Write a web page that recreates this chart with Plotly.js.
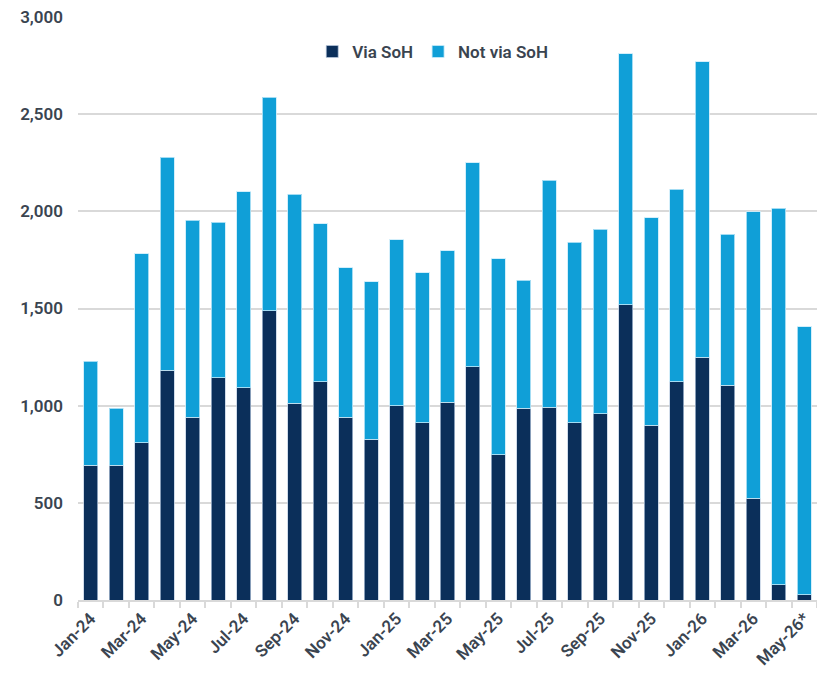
<!DOCTYPE html>
<html>
<head>
<meta charset="utf-8">
<script src="https://cdn.plot.ly/plotly-3.0.1.min.js"></script>
<style>html,body{margin:0;padding:0;background:#fff;}#chart{width:817px;height:680px;}</style>
</head>
<body>
<div id="chart"></div>
<script>
const categories = ["Jan-24","Feb-24","Mar-24","Apr-24","May-24","Jun-24","Jul-24","Aug-24","Sep-24","Oct-24","Nov-24","Dec-24",
  "Jan-25","Feb-25","Mar-25","Apr-25","May-25","Jun-25","Jul-25","Aug-25","Sep-25","Oct-25","Nov-25","Dec-25",
  "Jan-26","Feb-26","Mar-26","Apr-26","May-26*"];
const totals = [1228,986,1783,2279,1955,1943,2100,2587,2087,1936,1710,1638,
  1855,1684,1797,2251,1756,1645,2159,1842,1908,2812,1968,2113,
  2771,1881,1999,2015,1406];
const viaSoH = [694,694,808,1183,940,1144,1091,1488,1012,1123,940,827,
  1000,912,1017,1199,748,986,991,912,958,1519,898,1123,
  1250,1104,523,79,27];
const notViaSoH = totals.map((t,i)=>t-viaSoH[i]);
const tickLabels = categories.map((c,i)=> i%2===0 ? c : "");

const fontFam = "Roboto, 'Noto Sans', sans-serif";
const textColor = "#3a4450";

const traces = [
  {type:"bar", name:"Via SoH", x:categories, y:viaSoH,
   marker:{color:"#0b2f5a", line:{color:"rgba(190,205,225,0.7)", width:1}}},
  {type:"bar", name:"Not via SoH", x:categories, y:notViaSoH,
   marker:{color:"#109fd7", line:{color:"rgba(200,235,250,0.8)", width:1}}}
];

const layout = {
  barmode:"stack",
  bargap:0.45,
  width:817, height:680,
  margin:{l:78, r:0, t:17, b:80},
  paper_bgcolor:"#fff", plot_bgcolor:"#fff",
  font:{family:fontFam, color:textColor, size:16, weight:600},
  showlegend:true,
  legend:{orientation:"h", x:0.48, y:0.94, xanchor:"center", yanchor:"middle",
    font:{family:fontFam, size:17, color:textColor, weight:600}, traceorder:"normal",
    itemwidth:30, bgcolor:"rgba(0,0,0,0)"},
  xaxis:{type:"category", categoryorder:"array", categoryarray:categories,
    tickvals:categories, ticktext:tickLabels, tickangle:-45,
    tickson:"boundaries", ticks:"outside", ticklen:6, tickwidth:2, tickcolor:"#d9d9d9",
    showline:true, linecolor:"#d9d9d9", linewidth:2, showgrid:false,
    range:[-0.5, categories.length-0.5],
    tickfont:{family:fontFam, size:17, color:textColor, weight:600}},
  yaxis:{range:[0,3000], dtick:500, tickformat:",", showgrid:true, gridcolor:"#d9d9d9", gridwidth:2,
    zeroline:false, showline:false, ticks:"", ticklabelstandoff:14,
    tickfont:{family:fontFam, size:17, color:textColor, weight:600}}
};

Plotly.newPlot("chart", traces, layout, {displayModeBar:false, staticPlot:true});
</script>
</body>
</html>
